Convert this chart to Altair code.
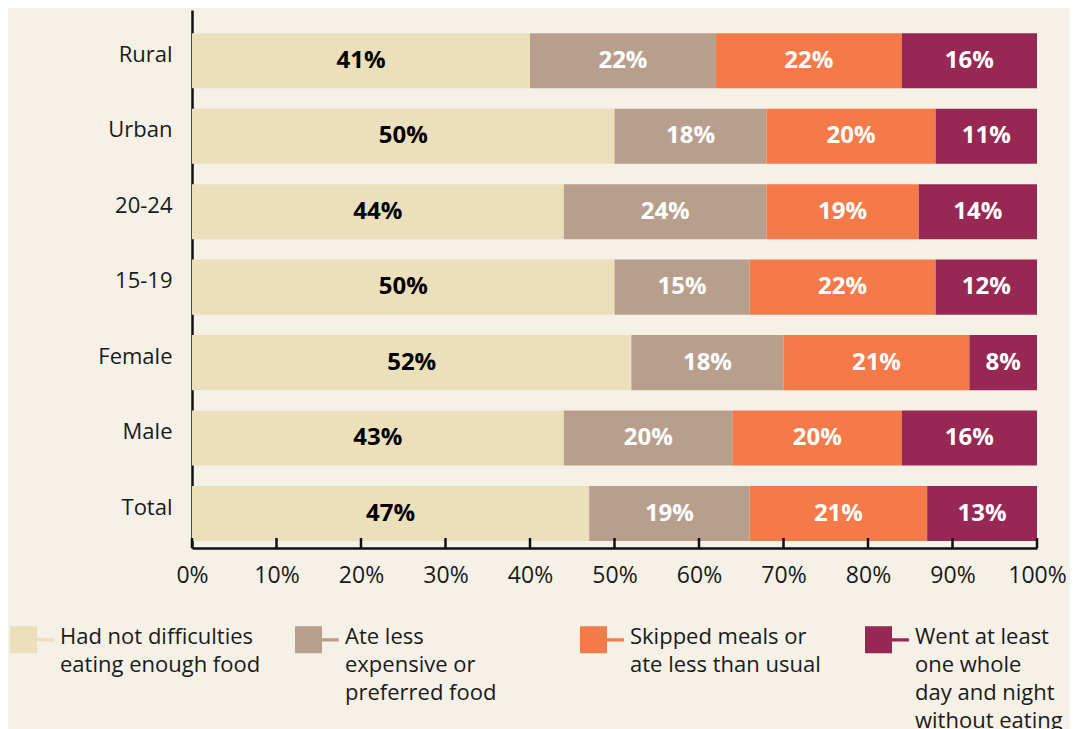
import altair as alt
import pandas as pd

GROUPS = ["Rural", "Urban", "20-24", "15-19", "Female", "Male", "Total"]
CATEGORIES = [
    "Had not difficulties|eating enough food",
    "Ate less|expensive or|preferred food",
    "Skipped meals or|ate less than usual",
    "Went at least|one whole|day and night|without eating",
]
# printed labels (%)
LBL_HAD_NOT = [41, 50, 44, 50, 52, 43, 47]
LBL_ATE_LESS = [22, 18, 24, 15, 18, 20, 19]
LBL_SKIPPED = [22, 20, 19, 22, 21, 20, 21]
LBL_WENT = [16, 11, 14, 12, 8, 16, 13]
# drawn bar lengths (%)
BAR_HAD_NOT = [40, 50, 44, 50, 52, 44, 47]
BAR_ATE_LESS = [22, 18, 24, 16, 18, 20, 19]
BAR_SKIPPED = [22, 20, 18, 22, 22, 20, 21]
BAR_WENT = [16, 12, 14, 12, 8, 16, 13]
COLORS = ["#ebdfbc", "#b89f8d", "#f47a4a", "#962853"]
TICKS = [0, 0.1, 0.2, 0.3, 0.4, 0.5, 0.6, 0.7, 0.8, 0.9, 1.0]

rows = []
series = [
    (BAR_HAD_NOT, LBL_HAD_NOT), (BAR_ATE_LESS, LBL_ATE_LESS),
    (BAR_SKIPPED, LBL_SKIPPED), (BAR_WENT, LBL_WENT),
]
for ci, (bar_vals, lbl_vals) in enumerate(series):
    for g, v, l in zip(GROUPS, bar_vals, lbl_vals):
        rows.append({"group": g, "cat": CATEGORIES[ci], "idx": ci, "value": v, "label": l})
df = pd.DataFrame(rows)

W, H = 845, 538
FONT = "Open Sans"
TXT = "#1a1a1a"

base = alt.Chart(df).transform_stack(
    stack="value", groupby=["group"], as_=["x0", "x1"],
    offset="normalize", sort=[alt.SortField("idx", order="ascending")]
).transform_calculate(mid="(datum.x0 + datum.x1) / 2", lbl="datum.label + '%'")

yenc = alt.Y(
    "group:N", sort=GROUPS, title=None,
    scale=alt.Scale(paddingInner=0.27, paddingOuter=0.2, align=0.77),
    axis=alt.Axis(ticks=False, labelPadding=20, labelOffset=-6, labelFontSize=22,
                  labelFont=FONT, labelColor=TXT, domainColor="#111111", domainWidth=2.5),
)

bars = base.mark_bar().encode(
    x=alt.X("x0:Q", title=None, scale=alt.Scale(domain=[0, 1], nice=False),
            axis=alt.Axis(values=TICKS, format=".0%", grid=False, ticks=False, tickSize=0,
                          labelPadding=16, labelFontSize=23, labelFont=FONT, labelColor=TXT,
                          domainColor="#111111", domainWidth=2.5, labelFlush=False)),
    x2="x1:Q",
    y=yenc,
    color=alt.Color(
        "cat:N", title=None,
        scale=alt.Scale(domain=CATEGORIES, range=COLORS),
        legend=alt.Legend(
            orient="none", legendX=-182, legendY=603, direction="horizontal", columns=4,
            gridAlign="all", columnPadding=34, padding=0,
            symbolType="M-1,-0.03H1V0.85H2.25V1.09H1V1.97H-1Z", symbolSize=729,
            symbolStrokeWidth=0, symbolOpacity=1,
            labelExpr="slice(split(datum.label + '|||', '|'), 0, 4)",
            labelLimit=400, labelOffset=23,
            labelFontSize=22, labelFont=FONT, labelColor=TXT, labelBaseline="top",
        ),
    ),
    order=alt.Order("idx:Q"),
)

labels = base.mark_text(fontSize=24, fontWeight="bold", font=FONT).encode(
    x=alt.X("mid:Q"),
    y=alt.Y("group:N", sort=GROUPS),
    text="lbl:N",
    color=alt.condition("datum.idx == 0", alt.value("#000000"), alt.value("#ffffff")),
)

ticks = alt.Chart(pd.DataFrame({"t": TICKS})).mark_rule(color="#111111", strokeWidth=2.5).encode(
    x=alt.X("t:Q"),
    y=alt.value(H - 10),
    y2=alt.value(H),
)

chart = alt.layer(bars, labels, ticks).properties(
    width=W, height=H, background="#f6f1e6",
    padding={"left": 184, "top": 2, "right": 33, "bottom": 181},
    autosize=alt.AutoSizeParams(type="none"),
).configure(
    style={"guide-label": {"lineHeight": 28}}
).configure_view(stroke=None)

chart.save("out.html", embed_options={"renderer": "svg", "actions": False})
